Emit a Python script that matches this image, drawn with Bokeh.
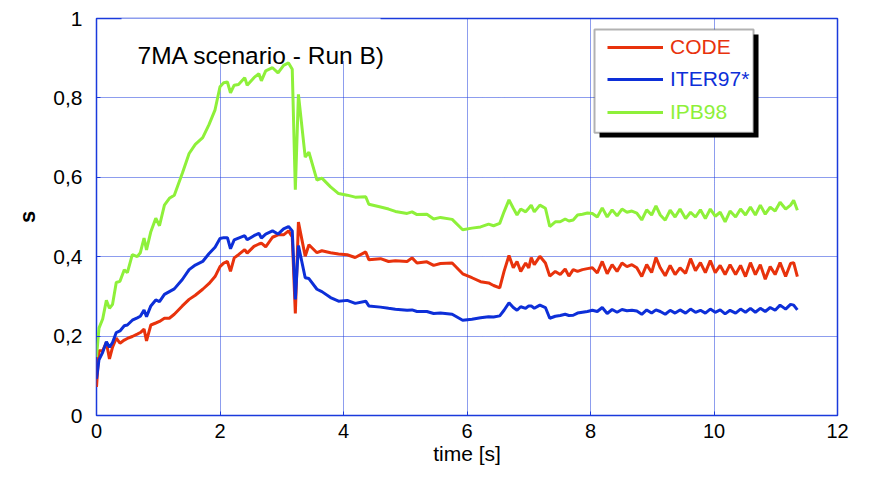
from bokeh.plotting import figure
from bokeh.models import Legend, LegendItem, Label, BoxAnnotation, FixedTicker, Range1d
from bokeh.embed import file_html
from bokeh.resources import INLINE

# ---------------- data ----------------
time_s = [
    0, 0.04, 0.1, 0.16, 0.21, 0.26, 0.32, 0.38, 0.45, 0.5,
    0.58, 0.66, 0.71, 0.77, 0.81, 0.88, 0.96, 1.02, 1.1, 1.18,
    1.26, 1.39, 1.5, 1.6, 1.72, 1.82, 1.92, 2.0, 2.06, 2.12,
    2.17, 2.23, 2.3, 2.4, 2.44, 2.55, 2.63, 2.67, 2.74, 2.85,
    2.94, 3.03, 3.11, 3.17, 3.22, 3.27, 3.38, 3.44, 3.57, 3.65,
    3.79, 3.92, 4.06, 4.19, 4.36, 4.41, 4.6, 4.73, 4.84, 5.03,
    5.11, 5.19, 5.35, 5.46, 5.57, 5.76, 5.93, 6.08, 6.22, 6.35,
    6.43, 6.53, 6.6, 6.68, 6.75, 6.81, 6.87, 6.95, 7.0, 7.04,
    7.09, 7.18, 7.27, 7.34, 7.43, 7.51, 7.59, 7.65, 7.72, 7.79,
    7.87, 7.95, 8.03, 8.11, 8.19, 8.27, 8.35, 8.43, 8.51, 8.59,
    8.67, 8.75, 8.83, 8.91, 8.99, 9.06,
    9.13, 9.21, 9.29, 9.37, 9.45, 9.54, 9.62, 9.70, 9.78, 9.86,
    9.94, 10.02, 10.10, 10.18, 10.26, 10.35, 10.43, 10.51, 10.59, 10.67,
    10.75, 10.83, 10.91, 10.99, 11.07, 11.16, 11.24, 11.29, 11.35,
]

code_s = [
    0.072, 0.163, 0.163, 0.184, 0.1425, 0.172, 0.195, 0.182, 0.19, 0.194,
    0.199, 0.205, 0.209, 0.2175, 0.188, 0.228, 0.233, 0.237, 0.245, 0.245,
    0.255, 0.276, 0.2925, 0.303, 0.318, 0.332, 0.35, 0.375, 0.384, 0.388,
    0.363, 0.397, 0.405, 0.418, 0.409, 0.426, 0.432, 0.434, 0.425, 0.449,
    0.455, 0.455, 0.465, 0.45, 0.257, 0.487, 0.401, 0.43, 0.41, 0.415,
    0.41, 0.407, 0.405, 0.398, 0.412, 0.3925, 0.395, 0.388, 0.39, 0.388,
    0.397, 0.384, 0.387, 0.378, 0.383, 0.384, 0.357, 0.347, 0.337, 0.334,
    0.3275, 0.3215, 0.363, 0.403, 0.372, 0.388, 0.363, 0.384, 0.372, 0.398,
    0.38, 0.401, 0.384, 0.351, 0.363, 0.355, 0.369, 0.351, 0.3675, 0.363,
    0.3675, 0.37, 0.372, 0.359, 0.388, 0.357, 0.38, 0.363, 0.384, 0.375,
    0.38, 0.372, 0.35, 0.38, 0.36, 0.398,
    0.372, 0.352, 0.378, 0.355, 0.372, 0.358, 0.395, 0.365, 0.385, 0.36,
    0.39, 0.36, 0.378, 0.355, 0.38, 0.355, 0.378, 0.35, 0.385, 0.355,
    0.38, 0.343, 0.375, 0.355, 0.385, 0.35, 0.383, 0.385, 0.35,
]

iter97_s = [
    0.0925, 0.14, 0.159, 0.186, 0.172, 0.184, 0.209, 0.213, 0.226, 0.228,
    0.24, 0.246, 0.25, 0.266, 0.249, 0.276, 0.291, 0.287, 0.305, 0.312,
    0.319, 0.3425, 0.3675, 0.379, 0.388, 0.4075, 0.424, 0.446, 0.448, 0.448,
    0.42, 0.4425, 0.447, 0.453, 0.4425, 0.453, 0.459, 0.447, 0.457, 0.465,
    0.457, 0.47, 0.476, 0.465, 0.2925, 0.428, 0.347, 0.345, 0.318, 0.312,
    0.297, 0.288, 0.29, 0.2825, 0.288, 0.276, 0.273, 0.27, 0.2675, 0.265,
    0.266, 0.262, 0.262, 0.257, 0.258, 0.255, 0.24, 0.2425, 0.246, 0.249,
    0.248, 0.251, 0.265, 0.284, 0.272, 0.265, 0.274, 0.27, 0.276, 0.276,
    0.27, 0.278, 0.272, 0.245, 0.25, 0.252, 0.255, 0.252, 0.2525, 0.258,
    0.26, 0.262, 0.265, 0.262, 0.272, 0.257, 0.267, 0.26, 0.267, 0.264,
    0.265, 0.263, 0.255, 0.266, 0.258, 0.266,
    0.262, 0.255, 0.265, 0.258, 0.266, 0.258, 0.268, 0.26, 0.265, 0.258,
    0.268, 0.26, 0.266, 0.256, 0.265, 0.258, 0.268, 0.26, 0.27, 0.26,
    0.27, 0.262, 0.272, 0.265, 0.278, 0.268, 0.28, 0.278, 0.266,
]

ipb98_s = [
    0.147, 0.22, 0.243, 0.29, 0.27, 0.28, 0.335, 0.338, 0.367, 0.36,
    0.405, 0.40, 0.41, 0.447, 0.417, 0.463, 0.497, 0.478, 0.53, 0.547,
    0.555, 0.61, 0.66, 0.683, 0.70, 0.732, 0.77, 0.828, 0.838, 0.84,
    0.813, 0.832, 0.834, 0.851, 0.832, 0.851, 0.861, 0.843, 0.868, 0.876,
    0.863, 0.882, 0.888, 0.872, 0.569, 0.809, 0.651, 0.663, 0.593, 0.598,
    0.576, 0.559, 0.555, 0.55, 0.551, 0.532, 0.525, 0.52, 0.514, 0.509,
    0.513, 0.506, 0.507, 0.495, 0.499, 0.494, 0.468, 0.472, 0.475, 0.482,
    0.478, 0.484, 0.513, 0.543, 0.522, 0.505, 0.52, 0.513, 0.522, 0.53,
    0.513, 0.53, 0.522, 0.476, 0.488, 0.488, 0.495, 0.49, 0.4925, 0.505,
    0.507, 0.51, 0.509, 0.50, 0.523, 0.50, 0.518, 0.503, 0.52, 0.512,
    0.515, 0.51, 0.4925, 0.518, 0.505, 0.528,
    0.505, 0.492, 0.517, 0.50, 0.52, 0.496, 0.512, 0.50, 0.518, 0.496,
    0.52, 0.502, 0.512, 0.488, 0.515, 0.50, 0.52, 0.505, 0.525, 0.505,
    0.53, 0.507, 0.525, 0.515, 0.537, 0.52, 0.53, 0.542, 0.517,
]

series_names = ["CODE", "ITER97*", "IPB98"]
x_ticks = [0, 2, 4, 6, 8, 10, 12]
y_ticks = [0, 0.2, 0.4, 0.6, 0.8, 1]
y_tick_labels = ["0", "0,2", "0,4", "0,6", "0,8", "1"]

# ---------------- styles ----------------
RED = "#E8320C"
BLUE = "#0D2FD8"
GREEN = "#8EF03A"
FRAME = "#1A3ADC"
FONT = "Liberation Sans"

p = figure(width=853, height=467, output_backend="svg", toolbar_location=None,
           x_range=Range1d(0, 12), y_range=Range1d(0, 1),
           min_border_left=96, min_border_right=16, min_border_top=18, min_border_bottom=50)
p.background_fill_color = "white"
p.border_fill_color = "white"
p.outline_line_color = FRAME
p.outline_line_width = 1.5

for ax in (p.xaxis, p.yaxis):
    ax.axis_line_color = None
    ax.major_tick_in = 4
    ax.major_tick_out = 0
    ax.major_tick_line_color = FRAME
    ax.minor_tick_line_color = None
    ax.major_label_text_font = FONT
    ax.major_label_text_font_size = "21px"
    ax.major_label_text_color = "black"
    ax.axis_label_text_font = FONT
    ax.axis_label_text_color = "black"
    ax.axis_label_text_font_style = "normal"

p.xaxis.ticker = FixedTicker(ticks=x_ticks)
p.yaxis.ticker = FixedTicker(ticks=y_ticks)
p.yaxis.major_label_overrides = dict(zip(y_ticks, y_tick_labels))
p.xaxis.major_label_standoff = 8
p.xaxis.major_label_text_font_size = "20px"
p.xaxis.axis_label = "time [s]"
p.xaxis.axis_label_text_font_size = "21px"
p.xaxis.axis_label_standoff = 1
p.yaxis.major_label_standoff = 14
p.yaxis.axis_label = "s"
p.yaxis.axis_label_text_font_size = "22px"
p.yaxis.axis_label_text_font_style = "bold"
p.yaxis.axis_label_standoff = 10

p.grid.grid_line_color = FRAME
p.grid.grid_line_dash = "1 1"
p.grid.grid_line_width = 1

r_code = p.line(time_s, code_s, line_color=RED, line_width=3)
r_iter = p.line(time_s, iter97_s, line_color=BLUE, line_width=3)
r_ipb = p.line(time_s, ipb98_s, line_color=GREEN, line_width=3)

# white box behind title (hides grid/top border there)
p.add_layout(BoxAnnotation(left=0.405, right=4.6, top=1.02, bottom=0.893,
                           fill_color="white", fill_alpha=1, line_color=None))
p.add_layout(Label(x=0.664, y=0.9075, text="7MA scenario - Run B)",
                   text_font=FONT, text_font_size="24.5px", text_color="black",
                   text_baseline="alphabetic"))

# legend frame with shadow
p.add_layout(BoxAnnotation(left=8.146, right=10.721, top=0.96, bottom=0.70,
                           fill_color="black", fill_alpha=1, line_color=None))
p.add_layout(BoxAnnotation(left=8.065, right=10.64, top=0.9725, bottom=0.7125,
                           fill_color="white", fill_alpha=1, line_color="black", line_width=2))

for r, name, col, vy in [(r_code, series_names[0], RED, 356),
                         (r_iter, series_names[1], BLUE, 324),
                         (r_ipb, series_names[2], GREEN, 291)]:
    lg = Legend(items=[LegendItem(label=name, renderers=[r])], location=(511, vy),
                border_line_color=None, background_fill_alpha=0, padding=0, margin=0,
                spacing=0, glyph_width=56, glyph_height=20, label_height=20,
                label_standoff=7, label_text_color=col, label_text_font=FONT,
                label_text_font_size="21px")
    p.add_layout(lg)

open("out.html", "w").write(file_html(p, INLINE))
